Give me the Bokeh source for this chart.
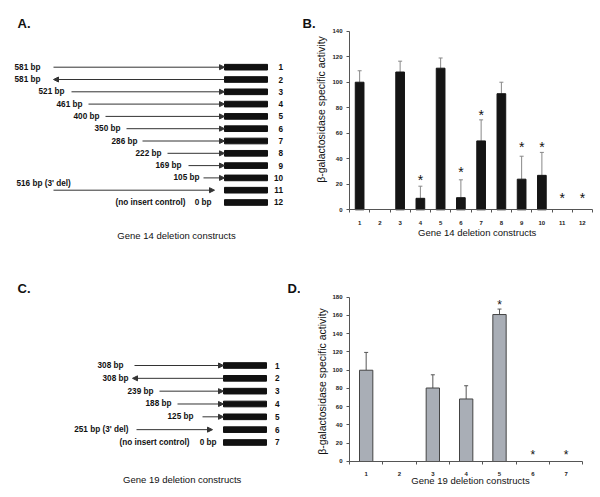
import numpy as np
from bokeh.plotting import figure
from bokeh.models import (Range1d, Arrow, NormalHead, ColumnDataSource, Label,
                          FixedTicker, Whisker, TeeHead)
from bokeh.layouts import column, row
from bokeh.embed import file_html
from bokeh.resources import INLINE
from bokeh.core.properties import value

FONT = "Liberation Sans"

# ---------------- data: Gene 14 constructs (panel A / B) ----------------
a_rows = [1, 2, 3, 4, 5, 6, 7, 8, 9, 10, 11, 12]
a_arrow_rows = [1, 2, 3, 4, 5, 6, 7, 8, 9, 10, 11]
a_arrow_start = [-171, 0, -153, -136, -119, -98, -82, -57, -36, -21, -171]
a_arrow_end = [0, -171, 0, 0, 0, 0, 0, 0, 0, 0, -10]
a_label_rows = [1, 2, 3, 4, 5, 6, 7, 8, 9, 10]
a_label_text = ["581 bp", "581 bp", "521 bp", "461 bp", "400 bp", "350 bp",
                "286 bp", "222 bp", "169 bp", "105 bp"]
a_label_x = [-184, -184, -160, -142, -125, -104, -87, -63, -43, -25]

b_cats = [1, 2, 3, 4, 5, 6, 7, 8, 9, 10, 11, 12]
b_vals = [100, 0, 108, 9, 111, 9.5, 54, 91, 24, 27, 0, 0]
b_err = [109, None, 116.5, 18.5, 119, 23.5, 70.5, 100, 42, 45, None, None]
b_star_x = [4, 6, 7, 9, 10, 11, 12]
b_star_y = [26, 31.6, 76.5, 51.5, 51.5, 11.8, 11.8]
b_yticks = [0, 20, 40, 60, 80, 100, 120, 140]

# ---------------- data: Gene 19 constructs (panel C / D) ----------------
c_rows = [1, 2, 3, 4, 5, 6, 7]
c_arrow_rows = [1, 2, 3, 4, 5, 6]
c_arrow_start = [-89, 0, -64, -46, -21, -87]
c_arrow_end = [0, -91, 0, 0, 0, -11]
c_label_rows = [1, 2, 3, 4, 5, 6]
c_label_text = ["308 bp", "308 bp", "239 bp", "188 bp", "125 bp", "251 bp (3' del)"]
c_label_x = [-100, -95, -70, -52, -30, -95]

d_cats = [1, 2, 3, 4, 5, 6, 7]
d_vals = [100, 0, 80.5, 68.5, 161, 0, 0]
d_err = [119.5, None, 95, 83, 167, None, None]
d_star_x = [5, 6, 7]
d_star_y = [175, 10, 10]
d_yticks = [0, 20, 40, 60, 80, 100, 120, 140, 160, 180]


def base_fig(w, h, xr, yr, axes=False):
    kw = {} if axes else dict(x_axis_location=None, y_axis_location=None)
    p = figure(width=w, height=h, x_range=xr, y_range=yr, output_backend="svg",
               toolbar_location=None, min_border=0, outline_line_color=None, **kw)
    for g in p.grid:
        g.visible = False
    return p


def diagram(p, rows, arrow_rows, xs, xe, lab_rows, lab_text, lab_x, num_x, box_h):
    p.quad(left=[0] * len(rows), right=[43] * len(rows),
           top=[r - box_h for r in rows], bottom=[r + box_h for r in rows],
           fill_color="#111111", line_color="#111111")
    src = ColumnDataSource(dict(x0=xs, x1=xe, y0=arrow_rows, y1=arrow_rows))
    p.add_layout(Arrow(source=src, x_start="x0", x_end="x1", y_start="y0", y_end="y1",
                       line_color="#333333", line_width=1,
                       end=NormalHead(size=5, fill_color="#333333", line_color="#333333")))
    p.text(x=lab_x, y=lab_rows, text=lab_text, text_align="right", text_baseline="middle",
           text_font=value(FONT), text_font_style="bold", text_font_size="8.2px",
           text_color="#111111")
    p.text(x=[num_x] * len(rows), y=rows, text=[str(r) for r in rows], text_align="right",
           text_baseline="middle", text_font=value(FONT), text_font_style="bold",
           text_font_size="8.2px", text_color="#111111")


def lbl(p, x, y, text, size, bold=False, align="left", angle=0.0):
    p.add_layout(Label(x=x, y=y, x_units="screen", y_units="screen", text=text,
                       text_font=FONT, text_font_size=size,
                       text_font_style="bold" if bold else "normal",
                       text_align=align, text_baseline="middle", angle=angle,
                       text_color="#111111"))


# ---------------- panel A ----------------
pA = base_fig(300, 248, Range1d(-224, 76), Range1d(15.740, -4.423))
diagram(pA, a_rows, a_arrow_rows, a_arrow_start, a_arrow_end,
        a_label_rows, a_label_text, a_label_x, 58.5, 0.23)
pA.text(x=[-208], y=[10.45], text=["516 bp (3' del)"], text_align="left",
        text_baseline="middle", text_font=value(FONT), text_font_style="bold",
        text_font_size="8.2px", text_color="#111111")
pA.text(x=[-39, -13], y=[12, 12], text=["(no insert control)", "0 bp"], text_align="right",
        text_baseline="middle", text_font=value(FONT), text_font_style="bold",
        text_font_size="8.2px", text_color="#111111")
lbl(pA, 17, 225, "A.", "13px", bold=True)
lbl(pA, 176, 13, "Gene 14 deletion constructs", "9.5px", align="center")

# ---------------- panel C ----------------
pC = base_fig(300, 249, Range1d(-223, 77), Range1d(11.288, -8.119))
diagram(pC, c_rows, c_arrow_rows, c_arrow_start, c_arrow_end,
        c_label_rows, c_label_text, c_label_x, 56, 0.22)
pC.text(x=[-34, -7], y=[7, 7], text=["(no insert control)", "0 bp"], text_align="right",
        text_baseline="middle", text_font=value(FONT), text_font_style="bold",
        text_font_size="8.2px", text_color="#111111")
lbl(pC, 17, 209, "C.", "13px", bold=True)
lbl(pC, 287, 209, "D.", "13px", bold=True)
lbl(pC, 181.7, 17.7, "Gene 19 deletion constructs", "9.5px", align="center")


# ---------------- bar charts ----------------
def bar_fig(w, h, xr, yr, cats, vals, err, star_x, star_y, yticks, ymax, bw, fill, line,
            errc, star_size):
    p = base_fig(w, h, xr, yr, axes=True)
    bx = [c for c, v in zip(cats, vals) if v > 0]
    bv = [v for v in vals if v > 0]
    p.vbar(x=bx, top=bv, width=bw, fill_color=fill, line_color=line, line_width=1)
    ex = [c for c, e in zip(cats, err) if e is not None]
    el = [v for v, e in zip(vals, err) if e is not None]
    eu = [e for e in err if e is not None]
    src = ColumnDataSource(dict(x=ex, lower=el, upper=eu))
    p.add_layout(Whisker(source=src, base="x", lower="lower", upper="upper",
                         dimension="height", line_color=errc, line_width=1,
                         lower_head=None,
                         upper_head=TeeHead(size=4, line_color=errc, line_width=1)))
    p.text(x=star_x, y=star_y, text=["*"] * len(star_x), text_align="center",
           text_baseline="middle", text_font=value(FONT), text_font_size=star_size,
           text_color="#111111", y_offset=3)
    xa = p.xaxis[0]
    xa.fixed_location = 0
    xa.ticker = FixedTicker(ticks=cats, minor_ticks=[c + 0.5 for c in [0] + cats])
    xa.bounds = (0.5, len(cats) + 0.5)
    xa.major_tick_out = 0
    xa.major_tick_in = 0
    xa.minor_tick_out = 3
    xa.minor_tick_in = 0
    xa.major_label_standoff = 8
    ya = p.yaxis[0]
    ya.fixed_location = 0.5
    ya.ticker = FixedTicker(ticks=yticks, minor_ticks=[])
    ya.bounds = (0, ymax)
    ya.major_tick_out = 3
    ya.major_tick_in = 0
    ya.major_label_standoff = 4
    for ax in (xa, ya):
        ax.axis_line_color = "#555555"
        ax.major_tick_line_color = "#555555"
        ax.minor_tick_line_color = "#555555"
        ax.major_label_text_font = FONT
        ax.major_label_text_font_style = "bold"
        ax.major_label_text_font_size = "6px"
        ax.major_label_text_color = "#222222"
    return p


pB = bar_fig(300, 248, Range1d(-1.92, 12.895), Range1d(-30.34, 164.07),
             b_cats, b_vals, b_err, b_star_x, b_star_y, b_yticks, 140,
             0.43, "#151515", "#151515", "#888888", "14px")
lbl(pB, 2, 225, "B.", "13px", bold=True)
lbl(pB, 176.7, 16, "Gene 14 deletion constructs", "9.5px", align="center")
lbl(pB, 20.5, 139, "\u03b2-galactosidase specific activity", "10.5px", align="center",
    angle=np.pi / 2)

pD = bar_fig(300, 249, Range1d(-0.97, 8.03), Range1d(-39.44, 233.35),
             d_cats, d_vals, d_err, d_star_x, d_star_y, d_yticks, 180,
             0.4, "#a9aeb6", "#444444", "#555555", "12px")
lbl(pD, 170, 17, "Gene 19 deletion constructs", "9.5px", align="center")
lbl(pD, 21.7, 116, "\u03b2-galactosidase specific activity", "10.5px", align="center",
    angle=np.pi / 2)

layout = column(row(pA, pB), row(pC, pD))
open("out.html", "w").write(file_html(layout, INLINE))
